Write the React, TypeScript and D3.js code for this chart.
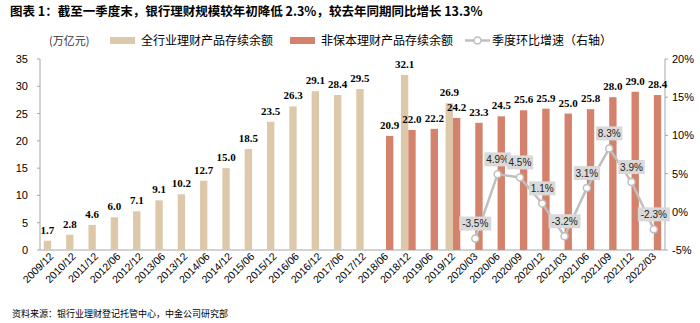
import React from "react";
import * as d3 from "d3";

const categories = ["2009/12","2010/12","2011/12","2012/06","2012/12","2013/06","2013/12","2014/06","2014/12","2015/06","2015/12","2016/06","2016/12","2017/06","2017/12","2018/06","2018/12","2019/06","2019/12","2020/03","2020/06","2020/09","2020/12","2021/03","2021/06","2021/09","2021/12","2022/03"];
const totalBalance: (number | null)[] = [1.7,2.8,4.6,6.0,7.1,9.1,10.2,12.7,15.0,18.5,23.5,26.3,29.1,28.4,29.5,null,32.1,null,26.9,null,null,null,null,null,null,null,null,null];
const netValueBalance: (number | null)[] = [null,null,null,null,null,null,null,null,null,null,null,null,null,null,null,20.9,22.0,22.2,24.2,23.3,24.5,25.6,25.9,25.0,25.8,28.0,29.0,28.4];
const qoqGrowth: (number | null)[] = [null,null,null,null,null,null,null,null,null,null,null,null,null,null,null,null,null,null,null,-3.5,4.9,4.5,1.1,-3.2,3.1,8.3,3.9,-2.3];
const leftTicks = [0,5,10,15,20,25,30,35];
const rightTicks = [-5,0,5,10,15,20];

const W = 700, H = 323;
const L = 40, R = 665, T = 59, B = 250;
const BEIGE = "#DDC9AA";
const RED = "#D4826C";
const GRAY = "#BFBFBF";
const CJK = "'Noto Sans CJK SC', sans-serif";
const SANS = "'Liberation Sans', Arial, sans-serif";
const SERIF = "'Liberation Serif', 'Times New Roman', serif";

export default function App() {
  const x = d3.scaleBand<string>().domain(categories).range([L, R]).paddingInner(0.34).paddingOuter(0.17);
  const sub = d3.scaleBand<string>().domain(["a", "b"]).range([0, x.bandwidth()]);
  const yL = d3.scaleLinear().domain([0, 35]).range([B, T]);
  const yR = d3.scaleLinear().domain([-5, 20]).range([B, T]);
  const cx = (c: string) => (x(c) as number) + x.bandwidth() / 2;

  const linePts = categories
    .map((c, i) => ({ c, v: qoqGrowth[i] }))
    .filter((d) => d.v !== null) as { c: string; v: number }[];
  const line = d3.line<{ c: string; v: number }>().x((d) => cx(d.c)).y((d) => yR(d.v));

  return (
    <svg width={W} height={H} style={{ display: "block", position: "absolute", left: 0, top: 0, background: "#fff" }}>
      <text x={10} y={16} fontFamily={CJK} fontWeight="bold" fontSize={12.5} fill="#000">
        图表 1：截至一季度末，银行理财规模较年初降低 2.3%，较去年同期同比增长 13.3%
      </text>
      {/* legend */}
      <text x={49} y={45} fontFamily={CJK} fontSize={11} fill="#333">(万亿元)</text>
      <rect x={110} y={37} width={25} height={7} fill={BEIGE} />
      <text x={141} y={45} fontFamily={CJK} fontSize={12} fill="#000">全行业理财产品存续余额</text>
      <rect x={290} y={37} width={25} height={7} fill={RED} />
      <text x={321} y={45} fontFamily={CJK} fontSize={12} fill="#000">非保本理财产品存续余额</text>
      <line x1={465} x2={490} y1={40.5} y2={40.5} stroke={GRAY} strokeWidth={2.5} />
      <circle cx={477.5} cy={40.5} r={3.5} fill="#fff" stroke={GRAY} strokeWidth={1.5} />
      <text x={492} y={45} fontFamily={CJK} fontSize={12} fill="#000">季度环比增速（右轴）</text>

      {/* axes */}
      <line x1={L} x2={L} y1={T} y2={B} stroke="#A6A6A6" />
      <line x1={R} x2={R} y1={T} y2={B} stroke="#A6A6A6" />
      <line x1={L} x2={R} y1={B} y2={B} stroke="#A6A6A6" />
      {leftTicks.map((t) => (
        <g key={"l" + t}>
          <line x1={L - 3} x2={L} y1={yL(t)} y2={yL(t)} stroke="#A6A6A6" />
          <text x={28} y={yL(t) + 4} textAnchor="end" fontFamily={SANS} fontSize={11} fill="#000">{t}</text>
        </g>
      ))}
      {rightTicks.map((t) => (
        <g key={"r" + t}>
          <line x1={R} x2={R + 3} y1={yR(t)} y2={yR(t)} stroke="#A6A6A6" />
          <text x={672} y={yR(t) + 4} textAnchor="start" fontFamily={SANS} fontSize={11} fill="#000">{t}%</text>
        </g>
      ))}

      {/* bars */}
      {categories.map((c, i) => {
        const v1 = totalBalance[i];
        const v2 = netValueBalance[i];
        const x0 = x(c) as number;
        return (
          <g key={c}>
            {v1 !== null && (
              <g>
                <rect x={x0 + (sub("a") as number)} y={yL(v1)} width={sub.bandwidth()} height={B - yL(v1)} fill={BEIGE} />
                <text x={x0 + (sub("a") as number) + sub.bandwidth() / 2} y={yL(v1) - 7} textAnchor="middle" fontFamily={SERIF} fontWeight="bold" fontSize={11} fill="#000">{v1.toFixed(1)}</text>
              </g>
            )}
            {v2 !== null && (
              <g>
                <rect x={x0 + (sub("b") as number)} y={yL(v2)} width={sub.bandwidth()} height={B - yL(v2)} fill={RED} />
                <text x={x0 + (sub("b") as number) + sub.bandwidth() / 2} y={yL(v2) - 7} textAnchor="middle" fontFamily={SERIF} fontWeight="bold" fontSize={11} fill="#000">{v2.toFixed(1)}</text>
              </g>
            )}
            <text transform={`translate(${cx(c) + 3},${B + 7}) rotate(-45)`} textAnchor="end" fontFamily={SANS} fontSize={10.5} fill="#000">{c}</text>
          </g>
        );
      })}

      {/* line */}
      <path d={line(linePts) as string} fill="none" stroke={GRAY} strokeWidth={2.5} />
      {linePts.map((d) => (
        <circle key={"p" + d.c} cx={cx(d.c)} cy={yR(d.v)} r={3.5} fill="#fff" stroke={GRAY} strokeWidth={1.5} />
      ))}
      {linePts.map((d) => {
        const label = d.v.toFixed(1) + "%";
        const w = label.length * 5.6 + 4;
        const px = cx(d.c);
        const py = yR(d.v) - 15;
        return (
          <g key={"lb" + d.c}>
            <rect x={px - w / 2} y={py - 7} width={w} height={14} fill="#D9D9D9" />
            <text x={px} y={py + 3.5} textAnchor="middle" fontFamily={SANS} fontSize={10} fill="#222">{label}</text>
          </g>
        );
      })}

      <text x={12} y={317} fontFamily={CJK} fontSize={9} fill="#000">资料来源：银行业理财登记托管中心，中金公司研究部</text>
    </svg>
  );
}
